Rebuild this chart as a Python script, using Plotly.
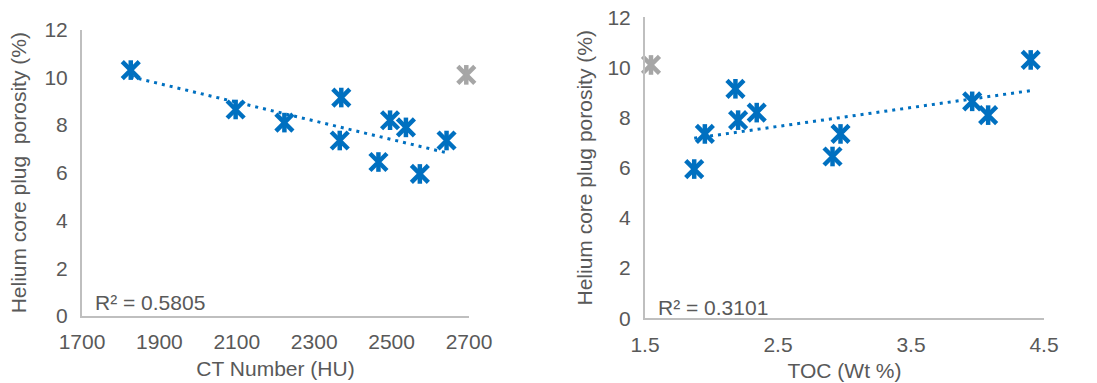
import numpy as np
import plotly.graph_objects as go

# Helium porosity (%) of the core plugs
porosity = [10.3, 8.65, 8.1, 9.15, 7.35, 6.45, 8.2, 7.9, 5.95, 7.35]
# CT number (HU) of the same plugs
ct_number = [1826, 2097, 2223, 2370, 2366, 2466, 2496, 2537, 2573, 2642]
# TOC (wt %) of the same plugs
toc = [4.40, 3.96, 4.08, 2.18, 2.97, 2.91, 2.34, 2.20, 1.87, 1.95]
# Excluded outlier sample
outlier_porosity = [10.1]
outlier_ct = [2693]
outlier_toc = [1.545]

r2_ct_label = "R² = 0.5805"
r2_toc_label = "R² = 0.3101"

BLUE = "#0070C0"
GREY = "#A6A6A6"
TEXT = "#595959"
AXIS = "#BFBFBF"
FONT = "Liberation Sans, Arial, sans-serif"
FS = 21

fig = go.Figure()


def add_star(x, y, color, xa, ya):
    # star marker: an X crossed by a vertical stroke
    for sym, size in (("x-thin-open", 17), ("line-ns-open", 14)):
        fig.add_trace(go.Scatter(
            x=x, y=y, mode="markers", xaxis=xa, yaxis=ya,
            cliponaxis=False, showlegend=False, hoverinfo="skip",
            marker=dict(symbol=sym, size=size, color=color,
                        line=dict(color=color, width=4.5)),
        ))


def add_trend(x, y, xa, ya):
    slope, intercept = np.polyfit(x, y, 1)
    xs = np.array([min(x), max(x)])
    fig.add_trace(go.Scatter(
        x=xs, y=slope * xs + intercept, mode="lines", xaxis=xa, yaxis=ya,
        showlegend=False, hoverinfo="skip",
        line=dict(color=BLUE, width=3, dash="3px,5px"),
    ))


add_trend(ct_number, porosity, "x", "y")
add_star(ct_number, porosity, BLUE, "x", "y")
add_star(outlier_ct, outlier_porosity, GREY, "x", "y")

add_trend(toc, porosity, "x2", "y2")
add_star(toc, porosity, BLUE, "x2", "y2")
add_star(outlier_toc, outlier_porosity, GREY, "x2", "y2")

W, H = 1097, 383
ax_common = dict(
    showgrid=False, zeroline=False, showline=True, linecolor=AXIS,
    linewidth=2, ticks="", tickfont=dict(family=FONT, size=FS, color=TEXT),
    automargin=False,
)
title_font = dict(family=FONT, size=FS, color=TEXT)

fig.update_layout(
    width=W, height=H,
    margin=dict(l=0, r=0, t=0, b=0),
    paper_bgcolor="white", plot_bgcolor="white",
    font=dict(family=FONT, color=TEXT),
    xaxis=dict(domain=[82 / W, 469 / W], range=[1700, 2700],
               tickvals=[1700, 1900, 2100, 2300, 2500, 2700],
               ticklabelstandoff=6,
               title=dict(text="CT Number (HU)", standoff=9, font=title_font),
               anchor="y", **ax_common),
    yaxis=dict(domain=[1 - 316 / H, 1 - 29.5 / H], range=[0, 12],
               tickvals=[0, 2, 4, 6, 8, 10, 12],
               ticklabelstandoff=8,
               title=dict(text="Helium core plug  porosity (%)", standoff=12,
                          font=title_font),
               anchor="x", **ax_common),
    xaxis2=dict(domain=[645 / W, 1044 / W], range=[1.5, 4.5],
                tickvals=[1.5, 2.5, 3.5, 4.5],
                ticklabelstandoff=6,
                title=dict(text="TOC (Wt %)", standoff=9, font=title_font),
                anchor="y2", **ax_common),
    yaxis2=dict(domain=[1 - 318.3 / H, 1 - 17.3 / H], range=[0, 12],
                tickvals=[0, 2, 4, 6, 8, 10, 12],
                ticklabelstandoff=8,
                title=dict(text="Helium core plug porosity (%)", standoff=9,
                           font=title_font),
                anchor="x2", **ax_common),
    annotations=[
        dict(text=r2_ct_label, xref="x", yref="y", x=1700, y=0.55,
             xanchor="left", yanchor="middle", xshift=11, showarrow=False,
             font=dict(family=FONT, size=FS, color=TEXT)),
        dict(text=r2_toc_label, xref="x2", yref="y2", x=1.5, y=0.45,
             xanchor="left", yanchor="middle", xshift=11, showarrow=False,
             font=dict(family=FONT, size=FS, color=TEXT)),
    ],
)

fig.write_html("out.html")
